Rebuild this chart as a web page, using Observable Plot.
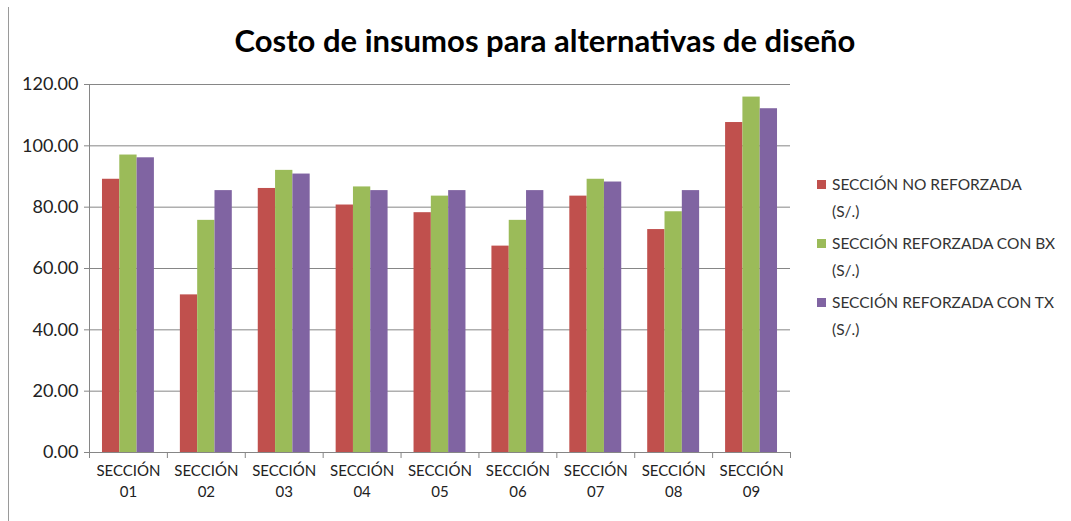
<!DOCTYPE html>
<html>
<head>
<meta charset="utf-8">
<script src="https://cdn.jsdelivr.net/npm/d3@7"></script>
<script src="https://cdn.jsdelivr.net/npm/@observablehq/plot@0.6"></script>
<style>
  html, body { margin: 0; padding: 0; background: #fff; }
  #wrap { position: relative; width: 1071px; height: 521px; overflow: hidden; font-family: Lato, sans-serif; }
  #border { position: absolute; left: 8px; top: 7px; width: 0; height: 514px; border-left: 1px solid #9a9a9a; }
  #title { position: absolute; left: 0; width: 1090px; top: 21px; text-align: center; font-weight: bold; font-size: 31px; color: #000; }
  #legend { position: absolute; left: 817px; top: 171px; font-size: 15.5px; color: #333; }
  .item { position: relative; padding-left: 15px; line-height: 26.5px; margin-bottom: 6px; }
  .sw { position: absolute; left: 0; top: 9px; width: 9px; height: 9px; }
  #chart { position: absolute; left: 0; top: 0; }
</style>
</head>
<body>
<div id="wrap">
  <div id="border"></div>
  <div id="title"></div>
  <div id="chart"></div>
  <div id="legend"></div>
</div>
<script>
const titleText = "Costo de insumos para alternativas de diseño";
const sections = ["01", "02", "03", "04", "05", "06", "07", "08", "09"];
const seriesNames = ["SECCIÓN NO REFORZADA (S/.)", "SECCIÓN REFORZADA CON BX (S/.)", "SECCIÓN REFORZADA CON TX (S/.)"];
const legendLines = [["SECCIÓN NO REFORZADA", "(S/.)"], ["SECCIÓN REFORZADA CON BX", "(S/.)"], ["SECCIÓN REFORZADA CON TX", "(S/.)"]];
const colors = ["#C0504D", "#9BBB59", "#8064A2"];
const noReforzada = [89.1, 51.4, 86.1, 80.7, 78.2, 67.3, 83.6, 72.7, 107.6];
const conBX = [97.0, 75.7, 92.0, 86.6, 83.6, 75.7, 89.1, 78.5, 115.9];
const conTX = [96.1, 85.4, 90.8, 85.4, 85.4, 85.4, 88.2, 85.4, 112.1];
const yTicks = [0, 20, 40, 60, 80, 100, 120];

const seriesValues = [noReforzada, conBX, conTX];
const data = [];
sections.forEach((s, i) => {
  seriesValues.forEach((vals, k) => {
    data.push({i, k, section: s, series: seriesNames[k], value: vals[i]});
  });
});

const outer = 1 / 6, bw = 2 / 9;

document.getElementById("title").textContent = titleText;

const chart = Plot.plot({
  width: 1071,
  height: 521,
  marginLeft: 89,
  marginRight: 281,
  marginTop: 84,
  marginBottom: 69,
  style: {fontFamily: "Lato, sans-serif", fontSize: "15px", color: "#222", background: "transparent"},
  x: {domain: [0, sections.length], axis: null},
  y: {domain: [0, 120], axis: null},
  color: {domain: seriesNames, range: colors},
  marks: [
    Plot.gridY(yTicks.filter(d => d > 0), {stroke: "#868686", strokeOpacity: 1}),
    Plot.rectY(data, {
      x1: d => d.i + outer + d.k * bw,
      x2: d => d.i + outer + (d.k + 1) * bw,
      y: "value",
      fill: "series"
    }),
    Plot.ruleY([0], {stroke: "#868686"}),
    Plot.ruleX([0], {stroke: "#868686"}),
    Plot.axisY({ticks: yTicks, tickFormat: d => d.toFixed(2), tickSize: 5, tickPadding: 6, stroke: "#868686", fontSize: 18, fill: "#222", label: null}),
    Plot.axisX({ticks: d3.range(0, sections.length + 1), tickFormat: () => "", tickSize: 6, stroke: "#868686", label: null}),
    Plot.axisX({ticks: sections.map((s, i) => i + 0.5), tickSize: 0, tickPadding: 9, lineHeight: 1.4,
      tickFormat: d => "SECCIÓN\n" + sections[Math.floor(d)], fontSize: 15, fill: "#222", label: null})
  ]
});
document.getElementById("chart").appendChild(chart);

const legend = document.getElementById("legend");
legendLines.forEach((lines, k) => {
  const item = document.createElement("div");
  item.className = "item";
  const sw = document.createElement("span");
  sw.className = "sw";
  sw.style.background = colors[k];
  item.appendChild(sw);
  lines.forEach((t) => {
    const line = document.createElement("div");
    line.textContent = t;
    item.appendChild(line);
  });
  legend.appendChild(item);
});
</script>
</body>
</html>
